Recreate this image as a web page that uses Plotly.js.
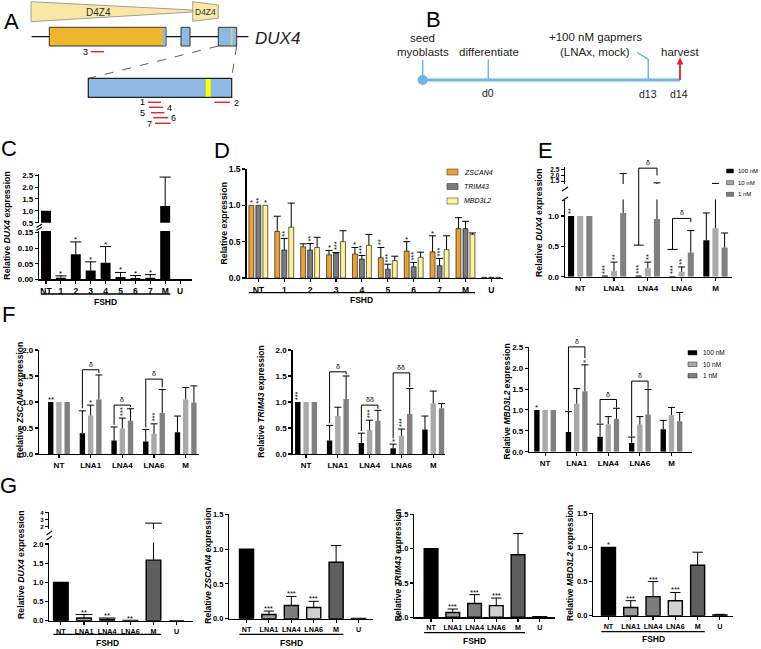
<!DOCTYPE html>
<html><head><meta charset="utf-8">
<script src="https://cdn.plot.ly/plotly-3.0.1.min.js"></script>
<style>html,body{margin:0;padding:0;background:#fff}#chart{width:761px;height:649px}</style>
</head><body><div id="chart"></div>
<script>
// ================= DATA =================
// Panel C
const cCats = ["NT","1","2","3","4","5","6","7","M","U"];
const cDux4 = [1.00, 0.005, 0.080, 0.028, 0.053, 0.007, 0.004, 0.005, 1.20, 0.000];
const cDux4Sd = [0, 0.006, 0.040, 0.028, 0.052, 0.015, 0.008, 0.010, 1.22, 0];
const cStars = ["","*","*","*","*","*","*","*","",""];
const cGroupLabel = "FSHD";

// Panel D
const dCats = ["NT","1","2","3","4","5","6","7","M","U"];
const dSeries = ["ZSCAN4","TRIM43","MBD3L2"];
const dZscan4 = [1.00,0.64,0.43,0.32,0.33,0.28,0.37,0.36,0.68,0.01];
const dZscan4Sd = [0,0.21,0.04,0.06,0.09,0.14,0.13,0.22,0.15,0];
const dTrim43 = [1.00,0.385,0.385,0.34,0.26,0.12,0.155,0.17,0.68,0.01];
const dTrim43Sd = [0,0.16,0.09,0.01,0.05,0.07,0.06,0.10,0.10,0];
const dMbd3l2 = [1.00,0.70,0.42,0.50,0.45,0.24,0.285,0.39,0.60,0.01];
const dMbd3l2Sd = [0,0.33,0.14,0.15,0.15,0.06,0.07,0.19,0.02,0];
const dZscan4Stars = ["*","","","*","*","**","*","*","",""];
const dTrim43Stars = ["**","**","**","***","***","***","***","***","",""];
const dMbd3l2Stars = ["*","","","","","","","","",""];

// Panels E/F shared
const doses = ["100 nM","10 nM","1 nM"];
const lnaCats = ["NT","LNA1","LNA4","LNA6","M"];

// Panel E (DUX4)
const eDux4_100 = [1.00,0.02,0.02,0.01,0.60];
const eDux4_100Sd = [0,0,0,0,0.45];
const eDux4_10 = [1.00,0.09,0.14,0.08,0.80];
const eDux4_10Sd = [0,0.15,0.10,0.08,0.50];
const eDux4_1 = [1.00,1.05,0.95,0.40,0.48];
const eDux4_1Sd = [0,1.10,0.40,0.36,0.24];
const eStars_100 = ["**","***","***","***",""];
const eStars_10 = ["","**","**","**",""];
const eBrackets = [
  {grp:2, top:2.62, left:0.52, right:2.0, label:"δ"},
  {grp:3, top:0.96, left:0.45, right:0.90, label:"δ"}
];

// Panel F (ZSCAN4)
const fZscan4_100 = [1.00,0.40,0.26,0.24,0.42];
const fZscan4_100Sd = [0,0.43,0.26,0.23,0.31];
const fZscan4_10 = [1.00,0.74,0.49,0.39,1.05];
const fZscan4_10Sd = [0,0.20,0.20,0.19,0.23];
const fZscan4_1 = [1.00,1.05,0.64,0.79,0.99];
const fZscan4_1Sd = [0,0.47,0.23,0.45,0.32];
const fZscan4Stars_100 = ["**","","","",""];
const fZscan4Stars_10 = ["","*","***","***",""];
const fZscan4Brackets = [
  {grp:1, top:1.62, left:0.88, right:1.56, label:"δ"},
  {grp:2, top:0.94, left:0.56, right:0.90, label:"δ"},
  {grp:3, top:1.44, left:0.51, right:1.28, label:"δ"}
];
// Panel F (TRIM43)
const fTrim43_100 = [1.00,0.26,0.21,0.11,0.47];
const fTrim43_100Sd = [0,0.29,0.19,0.08,0.26];
const fTrim43_10 = [1.00,0.73,0.46,0.35,0.97];
const fTrim43_10Sd = [0,0.17,0.19,0.13,0.24];
const fTrim43_1 = [1.00,1.06,0.64,0.77,0.88];
const fTrim43_1Sd = [0,0.44,0.20,0.49,0.09];
const fTrim43Stars_100 = ["***","","","*",""];
const fTrim43Stars_10 = ["","","***","***",""];
const fTrim43Brackets = [
  {grp:1, top:1.58, left:0.59, right:1.53, label:"δ"},
  {grp:2, top:0.94, left:0.44, right:0.87, label:"δδ"},
  {grp:3, top:1.56, left:0.30, right:1.29, label:"δδ"}
];
// Panel F (MBD3L2)
const fMbd3l2_100 = [1.00,0.47,0.36,0.21,0.54];
const fMbd3l2_100Sd = [0,0.49,0.30,0.14,0.21];
const fMbd3l2_10 = [1.00,1.15,0.66,0.65,0.88];
const fMbd3l2_10Sd = [0,0.36,0.18,0.19,0.18];
const fMbd3l2_1 = [1.00,1.45,0.79,0.89,0.73];
const fMbd3l2_1Sd = [0,0.63,0.25,0.60,0.21];
const fMbd3l2Stars_100 = ["*","","","",""];
const fMbd3l2Stars_1 = ["","*","","",""];
const fMbd3l2Brackets = [
  {grp:1, top:2.51, left:0.98, right:2.24, label:"δ"},
  {grp:2, top:1.25, left:0.68, right:1.06, label:"δ"},
  {grp:3, top:1.69, left:0.37, right:1.51, label:"δ"}
];

// Panel G
const gCats = ["NT","LNA1","LNA4","LNA6","M","U"];
const gDux4 = [1.00,0.07,0.03,0.005,1.58,0.00];
const gDux4Sd = [0,0.09,0.04,0,0.92,0];
const gDux4Stars = ["","**","**","**","",""];
const gZscan4 = [1.00,0.06,0.19,0.16,0.81,0.005];
const gZscan4Sd = [0,0.05,0.13,0.09,0.24,0];
const gZscan4Stars = ["","***","***","***","",""];
const gTrim43 = [1.00,0.07,0.20,0.17,0.91,0.01];
const gTrim43Sd = [0,0.05,0.13,0.11,0.31,0];
const gTrim43Stars = ["","***","***","***","",""];
const gMbd3l2 = [1.00,0.12,0.28,0.22,0.74,0.01];
const gMbd3l2Sd = [0,0.10,0.22,0.12,0.19,0.01];
const gMbd3l2Stars = ["*","***","***","***","",""];

// ================= HELPERS =================
const W=761,H=649;
const FONT='Arial, "Liberation Sans", Helvetica, sans-serif';
const xd=(a,b)=>[a/W,b/W];
const yd=(t,b)=>[1-b/H,1-t/H];
const PX=x=>x/W, PY=y=>1-y/H;

const layout={width:W,height:H,margin:{l:0,r:0,t:0,b:0},paper_bgcolor:'#fff',plot_bgcolor:'rgba(0,0,0,0)',
  barmode:'overlay',showlegend:false,font:{family:FONT,color:'#000'},shapes:[],annotations:[]};
const traces=[];

function xAxis(key, dom, range, anchor, cats, fs){
  layout[key]={domain:dom,range:range,anchor:anchor,type:'linear',showline:true,linecolor:'#000',linewidth:1.4,
    ticks:'outside',ticklen:3,tickwidth:1.1,tickcolor:'#000',showgrid:false,zeroline:false,tickangle:0,
    tickmode:'array',tickvals:cats.map((_,i)=>i),ticktext:cats,
    tickfont:{family:FONT,size:fs,weight:'bold',color:'#000'},fixedrange:true};
}
function yAxis(key, dom, range, anchor, vals, dec, fs){
  layout[key]={domain:dom,range:range,anchor:anchor,showline:true,linecolor:'#000',linewidth:1.4,
    ticks:'outside',ticklen:3,tickwidth:1.1,tickcolor:'#000',showgrid:false,zeroline:false,
    tickmode:'array',tickvals:vals,ticktext:vals.map(v=>v.toFixed(dec)),
    tickfont:{family:FONT,size:fs,weight:'bold',color:'#000'},fixedrange:true};
}
const axKey=yn=>'yaxis'+yn.slice(1);
function bars(xn, yns, vals, sd, color, w, shift, lineW, capHalf){
  const xs=vals.map((_,i)=>i+shift);
  yns.forEach((yn,j)=>{
    const r=layout[axKey(yn)].range;
    traces.push({type:'bar',x:xs,y:vals,xaxis:xn,yaxis:yn,width:w,
      marker:{color:color,line:{color:'#000',width:j===0?lineW:0}},
      error_y:{type:'data',symmetric:false,array:sd,arrayminus:vals.map(()=>0),color:'#000',thickness:1,width:0},
      hoverinfo:'skip',showlegend:false});
    traces.push({type:'scatter',mode:'markers',x:xs,
      y:vals.map((v,i)=>{const t=v+sd[i];return (sd[i]>0&&t>=r[0]&&t<=r[1])?t:null;}),xaxis:xn,yaxis:yn,
      marker:{symbol:'line-ew-open',size:capHalf*2,color:'#000',line:{color:'#000',width:1}},
      hoverinfo:'skip',showlegend:false});
  });
}
function stars(xn, yn, st, vals, sd, shift, vert, fs){
  st.forEach((s,i)=>{
    if(!s) return;
    const v = vert && s.length>1;
    layout.annotations.push({xref:xn,yref:yn,x:i+shift,y:vals[i]+sd[i],text:s,showarrow:false,
      textangle:v?-90:0,xanchor:'center',yanchor:'bottom',yshift:v?1:-3,borderpad:0,
      font:{family:FONT,size:fs||8,color:'#000'}});
  });
}
function yPaper(key, v){const a=layout[key];return a.domain[0]+(v-a.range[0])/(a.range[1]-a.range[0])*(a.domain[1]-a.domain[0]);}
function bracket(xn, yFn, xl, xr, b, foot){
  const L=(x0,y0,x1,y1)=>layout.shapes.push({type:'line',xref:xn,yref:'paper',x0:x0,x1:x1,y0:yFn(y0),y1:yFn(y1),line:{color:'#000',width:1}});
  L(xl,b.left,xl,b.top); L(xl,b.top,xr,b.top); L(xr,b.top,xr,b.right);
  if(foot) L(xl-0.15,b.left,xl+0.15,b.left);
  layout.annotations.push({xref:xn,yref:'paper',x:(xl+xr)/2,y:yFn(b.top),text:b.label,showarrow:false,
    xanchor:'center',yanchor:'bottom',yshift:1,borderpad:0,font:{family:FONT,size:7,color:'#000'}});
}
function txt(x,y,text,size,o){
  o=o||{};
  layout.annotations.push(Object.assign({xref:'paper',yref:'paper',x:PX(x),y:PY(y),text:text,showarrow:false,
    xanchor:'center',yanchor:'middle',borderpad:0,font:{family:FONT,size:size,color:o.color||'#000'}},o.extra||{}));
}
function ytitle(x,y,text,fs){ txt(x,y,'<b>'+text+'</b>',fs,{extra:{textangle:-90}}); }
function line(x0,y0,x1,y1,color,w,dash){layout.shapes.push({type:'line',xref:'paper',yref:'paper',x0:PX(x0),y0:PY(y0),x1:PX(x1),y1:PY(y1),line:{color:color,width:w,dash:dash||'solid'}});}
function rect(x0,y0,x1,y1,fill,lc,lw){layout.shapes.push({type:'rect',xref:'paper',yref:'paper',x0:PX(x0),y0:PY(y0),x1:PX(x1),y1:PY(y1),fillcolor:fill,line:{color:lc||'rgba(0,0,0,0)',width:lw||0}});}
function poly(pts,fill,lc,lw){layout.shapes.push({type:'path',xref:'paper',yref:'paper',path:'M'+pts.map(p=>PX(p[0])+','+PY(p[1])).join('L')+'Z',fillcolor:fill,line:{color:lc||'rgba(0,0,0,0)',width:lw||0}});}
function groupLine(xn, x0, x1, ly, ty, label){
  layout.shapes.push({type:'line',xref:xn,yref:'paper',x0:x0,x1:x1,y0:PY(ly),y1:PY(ly),line:{color:'#000',width:1.3}});
  layout.annotations.push({xref:xn,yref:'paper',x:(x0+x1)/2,y:PY(ty),text:'<b>'+label+'</b>',showarrow:false,xanchor:'center',yanchor:'middle',borderpad:0,font:{family:FONT,size:8.5,color:'#000'}});
}
function legend(x0,x1,ycs,h,colors,names,fs,tx,italic){
  ycs.forEach((yc,i)=>{
    rect(x0,yc-h/2,x1,yc+h/2,colors[i],'#222',0.5);
    txt(tx,yc,italic?'<i>'+names[i]+'</i>':names[i],fs,{extra:{xanchor:'left'}});
  });
}

// ================= PANEL C =================
xAxis('xaxis', xd(39.3,192), [-0.45,9.8], 'y', cCats, 8.5);
yAxis('yaxis', yd(231,279.3), [0,0.155], 'x', [0,0.05,0.10,0.15], 2, 8);
yAxis('yaxis2', yd(174,222.7), [0.5,2.55], 'x', [0.5,1.0,1.5,2.0,2.5], 1, 8);
bars('x',['y','y2'],cDux4,cDux4Sd,'#000',0.67,0,0,4);
stars('x','y',cStars,cDux4,cDux4Sd,0,false,8);
groupLine('x',-0.34,8.34,294,301.5,cGroupLabel);
ytitle(6.7,225,'Relative <i>DUX4</i> expression',8.8);
line(36.5,227.5,42,224,'#000',1.1); line(36.5,230.5,42,227,'#000',1.1);

// ================= PANEL D =================
xAxis('xaxis2', xd(246.7,503), [-0.45,9.45], 'y3', dCats, 8.5);
yAxis('yaxis3', yd(169,278), [0,1.5], 'x2', [0,0.5,1.0,1.5], 1, 8.5);
const dColors=['#E9A23B','#7b7b7b','#FFF29A'];
const dW=0.19, dS=0.27;
[[dZscan4,dZscan4Sd,dZscan4Stars],[dTrim43,dTrim43Sd,dTrim43Stars],[dMbd3l2,dMbd3l2Sd,dMbd3l2Stars]].forEach((s,k)=>{
  bars('x2',['y3'],s[0],s[1],dColors[k],dW,(k-1)*dS,0.6,2.5);
  stars('x2','y3',s[2],s[0],s[1],(k-1)*dS,true,7.5);
});
groupLine('x2',-0.37,8.37,292.7,299.5,cGroupLabel);
ytitle(224.3,223.3,'Relative expression',8.8);
legend(447,458,[172,186.5,201],6,dColors,dSeries,7,463,true);

// ================= PANEL E =================
const eColors=['#000000','#a9a9a9','#808080'];
xAxis('xaxis3', xd(565,731.7), [-0.45,4.48], 'y4', lnaCats, 8);
yAxis('yaxis4', yd(199.6,276.7), [0,1.27], 'x3', [0,0.5,1.0], 1, 8);
yAxis('yaxis5', yd(167,184), [1.25,2.72], 'x3', [1.5,2.0,2.5], 1, 6.5);
const eW=0.18, eS=0.27;
[[eDux4_100,eDux4_100Sd,eStars_100],[eDux4_10,eDux4_10Sd,eStars_10],[eDux4_1,eDux4_1Sd,null]].forEach((s,k)=>{
  bars('x3',['y4','y5'],s[0],s[1],eColors[k],eW,(k-1)*eS,0,2.5);
  if(s[2]) stars('x3','y4',s[2],s[0],s[1],(k-1)*eS,true,7.5);
});
const eY=v=>v>1.27?yPaper('yaxis5',v):yPaper('yaxis4',v);
eBrackets.forEach(b=>bracket('x3',eY,b.grp-eS,b.grp+eS,b,true));
ytitle(539,223,'Relative <i>DUX4</i> expression',8.8);
line(562,191,568,187,'#000',1.1); line(562,201,568,197,'#000',1.1);
legend(726.5,733.5,[171,182.7,194.3],4,eColors,doses,6,737);

// ================= PANEL F =================
const fW=0.17, fS=0.26;
function fPanel(xk,yk,xn,yn,xdom,xr,ydom,yr,yt,ydec,series,starsArr,brs,vertFirst){
  xAxis(xk,xdom,xr,yn,lnaCats,8);
  yAxis(yk,ydom,yr,xn,yt,ydec,8);
  series.forEach((s,k)=>{
    bars(xn,[yn],s[0],s[1],eColors[k],fW,(k-1)*fS,0,2.5);
    if(starsArr[k]) stars(xn,yn,starsArr[k],s[0],s[1],(k-1)*fS,k===0?vertFirst:true,7.5);
  });
  brs.forEach(b=>bracket(xn,v=>yPaper(yk,v),b.grp-fS,b.grp+fS,b,false));
}
fPanel('xaxis4','yaxis6','x4','y6',xd(39.3,199),[-0.62,4.42],yd(350,454),[0,2],[0,0.5,1.0,1.5,2.0],1,
  [[fZscan4_100,fZscan4_100Sd],[fZscan4_10,fZscan4_10Sd],[fZscan4_1,fZscan4_1Sd]],
  [fZscan4Stars_100,fZscan4Stars_10,null],fZscan4Brackets,false);
ytitle(20,400,'Relative <i>ZSCAN4</i> expression',8.5);
fPanel('xaxis5','yaxis7','x5','y7',xd(292.7,445),[-0.42,4.37],yd(350,454),[0,2],[0,0.5,1.0,1.5,2.0],1,
  [[fTrim43_100,fTrim43_100Sd],[fTrim43_10,fTrim43_10Sd],[fTrim43_1,fTrim43_1Sd]],
  [fTrim43Stars_100,fTrim43Stars_10,null],fTrim43Brackets,true);
ytitle(261,401.7,'Relative <i>TRIM43</i> expression',8.5);
fPanel('xaxis6','yaxis8','x6','y8',xd(529.3,692),[-0.5,4.65],yd(347.3,451.7),[0,2.5],[0,0.5,1.0,1.5,2.0,2.5],1,
  [[fMbd3l2_100,fMbd3l2_100Sd],[fMbd3l2_10,fMbd3l2_10Sd],[fMbd3l2_1,fMbd3l2_1Sd]],
  [fMbd3l2Stars_100,null,fMbd3l2Stars_1],fMbd3l2Brackets,true);
ytitle(506,401.5,'Relative <i>MBD3L2</i> expression',8.5);
legend(688,697,[352.7,364.3,375.7],4.5,eColors,doses,6.5,701.5);

// ================= PANEL G =================
const gColors=['#000000','#9b9b9b','#7d7d7d','#d0d0d0','#5e5e5e','#000000'];
const gW=0.63;
xAxis('xaxis7', xd(49.3,193.3), [-0.5,5.72], 'y9', gCats, 7.2);
yAxis('yaxis9', yd(542.5,620.7), [0,2.04], 'x7', [0,0.5,1.0,1.5,2.0], 1, 7.5);
yAxis('yaxis10', yd(511.5,529), [1.65,4.2], 'x7', [2,3,4], 0, 6.2);
bars('x7',['y9','y10'],gDux4,gDux4Sd,gColors,gW,0,1.4,6);
stars('x7','y9',gDux4Stars,gDux4,gDux4Sd,0,false,7.5);
groupLine('x7',-0.32,4.32,634.3,643.3,cGroupLabel);
ytitle(21,565,'Relative <i>DUX4</i> expression',8.8);
line(46.5,535,52,531,'#000',1.1); line(46.5,540,52,536,'#000',1.1);

const gPanels=[
 ['xaxis8','yaxis11','x8','y11',xd(229.3,373.3),[-0.77,5.66],yd(514.3,618.7),gZscan4,gZscan4Sd,gZscan4Stars,634.3,642.7,[208,565.7],'ZSCAN4'],
 ['xaxis9','yaxis12','x9','y12',xd(414.3,555),[-0.77,5.7],yd(514.3,617.3),gTrim43,gTrim43Sd,gTrim43Stars,632.7,640.7,[397.5,565.8],'TRIM43'],
 ['xaxis10','yaxis13','x10','y13',xd(593.3,733.3),[-0.68,5.6],yd(513.3,615.7),gMbd3l2,gMbd3l2Sd,gMbd3l2Stars,631.7,639.3,[570,563],'MBD3L2']
];
gPanels.forEach(p=>{
  xAxis(p[0],p[4],p[5],p[3],gCats,7.2);
  yAxis(p[1],p[6],[0,1.5],p[2],[0,0.5,1.0,1.5],1,7.5);
  bars(p[2],[p[3]],p[7],p[8],gColors,gW,0,1.4,3.7);
  stars(p[2],p[3],p[9],p[7],p[8],0,false,7.5);
  groupLine(p[2],-0.32,4.32,p[10],p[11],cGroupLabel);
  ytitle(p[12][0],p[12][1],'Relative <i>'+p[13]+'</i> expression',8.5);
});

// ================= PANEL A (schematic) =================
poly([[31,1.7],[192.7,10],[192.7,12],[31,21.7]],'#FAE7A5','#8a8a8a',0.8);
poly([[192.7,1.7],[218.3,5],[218.3,18.3],[192.7,21.2]],'#FAE7A5','#8a8a8a',0.8);
txt(98,12.3,'D4Z4',10,{color:'#333'});
txt(205.5,12,'D4Z4',8.5,{color:'#333'});
line(31.7,36.7,248.3,36.7,'#111',1.3);
rect(49.3,27.3,166,46,'#F0B52E','#333',1);
rect(162.7,27.8,165.5,45.5,'#8DB9E3');
rect(181,27.3,190,46,'#8DB9E3','#333',1);
rect(218.3,27.3,236.7,46,'#8DB9E3','#333',1);
rect(230.8,28,232.6,45.3,'#C9D98C');
line(218.3,46,89,78.3,'#333',0.8,'dash');
line(236.7,46,231.5,78.3,'#333',0.8,'dash');
rect(88.3,78.3,231.7,97.3,'#8DB9E3','#222',1.2);
rect(205.7,79,210.7,96.6,'#FFFF00');
const red='#E0262B';
line(90.7,51.7,104,51.7,red,1.4); txt(85,52.3,'3',9);
line(147.7,102.3,161,102.3,red,1.4); txt(142.5,102.3,'1',9);
line(149,107.3,163.3,107.3,red,1.4); txt(169,108.3,'4',9);
line(151,112.7,164.3,112.7,red,1.4); txt(142.7,113.3,'5',9);
line(153.3,117.7,168.3,117.7,red,1.4); txt(173.3,118.3,'6',9);
line(155,123.3,170.7,123.3,red,1.4); txt(149,123.5,'7',9);
line(214.3,102.3,230,102.3,red,1.4); txt(236,103.3,'2',9);
txt(277,38,'<i>DUX4</i>',17,{color:'#222'});

// ================= PANEL B (timeline) =================
const blue='#6EB5EC';
line(422.7,80,680,80,blue,2.8);
layout.shapes.push({type:'circle',xref:'paper',yref:'paper',x0:PX(417.7),x1:PX(427.7),y0:PY(85),y1:PY(75),fillcolor:blue,line:{width:0}});
line(422.7,60,422.7,80,blue,1.5);
line(488.3,59.3,488.3,80,blue,1.5);
layout.shapes.push({type:'path',xref:'paper',yref:'paper',path:'M'+PX(637.3)+','+PY(52.7)+'L'+PX(648.3)+','+PY(59.3)+'L'+PX(648.3)+','+PY(80),line:{color:blue,width:1.5}});
line(680,80,680,63.5,red,1.8);
poly([[676.6,64.5],[680,57.5],[683.4,64.5]],red);
txt(422.7,38.3,'seed',11.5,{color:'#222'});
txt(422.7,51.7,'myoblasts',11.5,{color:'#222'});
txt(489.3,51.7,'differentiate',11.5,{color:'#222'});
txt(595,37.3,'+100 nM gapmers',11.5,{color:'#222'});
txt(595,51.7,'(LNAx, mock)',11.5,{color:'#222'});
txt(680,51.7,'harvest',11.5,{color:'#222'});
txt(488.3,93.3,'d0',10.5,{color:'#222'});
txt(648.3,94,'d13',10.5,{color:'#222'});
txt(679.3,94,'d14',10.5,{color:'#222'});

// ================= PANEL LETTERS =================
[['A',11.7,21.7],['B',433,20],['C',9,148.5],['D',222,150],['E',545.7,150],['F',8.5,314],['G',8.5,485.5]]
  .forEach(l=>txt(l[1],l[2],l[0],22));

Plotly.newPlot('chart',traces,layout,{staticPlot:true,displayModeBar:false});
</script></body></html>
